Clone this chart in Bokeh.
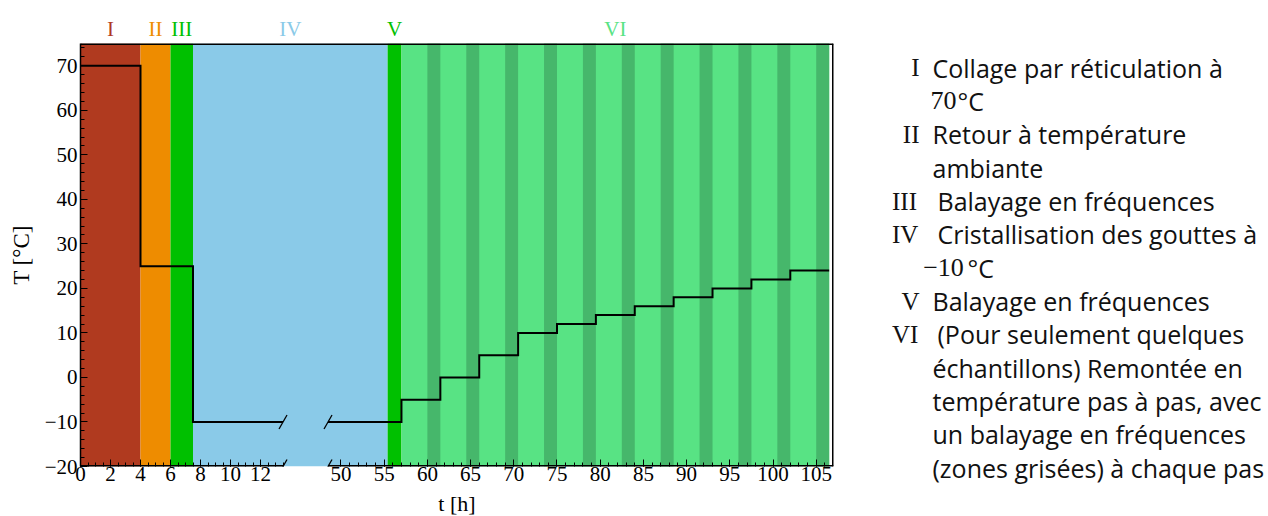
import numpy as np
from bokeh.plotting import figure
from bokeh.models import Range1d, FixedTicker, CustomJSTickFormatter
from bokeh.layouts import row, column
from bokeh.embed import file_html
from bokeh.resources import INLINE
from bokeh.core.properties import value

# ---------------- data ----------------
phase_labels = ["I", "II", "III", "IV", "V", "VI"]
phase_start_h = [0, 4, 6, 7.5, 55.4, 57]
phase_end_h = [4, 6, 7.5, 55.4, 57, 106.5]
phase_colors = ["#b03a1f", "#ee8c00", "#00c000", "#8acae8", "#00c000", "#58e384"]

sweep_start_h = [60, 64.5, 69, 73.5, 78, 82.5, 87, 91.5, 96, 100.5, 105]
sweep_end_h = [61.5, 66, 70.5, 75, 79.5, 84, 88.5, 93, 97.5, 102, 106.5]
sweep_color = "#46b76b"

step_time_h = [0, 4, 7.5, 57, 61.5, 66, 70.5, 75, 79.5, 84, 88.5, 93, 97.5, 102]
step_temp_c = [70, 25, -10, -5, 0, 5, 10, 12, 14, 16, 18, 20, 22, 24]
profile_end_h = 106.5

x_major_left = [0, 2, 4, 6, 8, 10, 12]
x_major_right = [50, 55, 60, 65, 70, 75, 80, 85, 90, 95, 100, 105]
y_major = [-20, -10, 0, 10, 20, 30, 40, 50, 60, 70]

legend_items = [
    ("I", "Collage par réticulation à", "70"),
    ("II", "Retour à température", "ambiante"),
    ("III", "Balayage en fréquences", None),
    ("IV", "Cristallisation des gouttes à", "−10"),
    ("V", "Balayage en fréquences", None),
    ("VI", "(Pour seulement quelques", None),
]
vi_continuation = ["échantillons) Remontée en", "température pas à pas, avec",
                   "un balayage en fréquences", "(zones grisées) à chaque pas"]

# ---------------- broken x axis mapping ----------------
LEFT_END, RIGHT_START, X_MAX_H = 13.5, 48.5, 107.0
PX_L, PX_R, GAP = 15.0, 8.64, 45.0
Y0, Y1 = -20, 75
FRAME_W, FRAME_H = 753, 423
PPU_Y = FRAME_H / (Y1 - Y0)
BL, BR = 80, 15
TOP_H, MAIN_BOTTOM, BOT_H = 43, 25, 25
BASE_FIX = 0.38  # em shift of Bokeh's alphabetic baseline placement


def u(t):
    if t <= LEFT_END:
        return round(t * PX_L, 4)
    return round(LEFT_END * PX_L + GAP + (t - RIGHT_START) * PX_R, 4)


def base(y, size):
    return y - BASE_FIX * size


U_MAX = u(X_MAX_H)
SERIF = "Liberation Serif"
SANS = "Open Sans"
xr = Range1d(0, U_MAX)


def bare(fw, fh, yr, x_range=None, left=0, right=0):
    f = figure(frame_width=fw, frame_height=fh, x_range=x_range if x_range is not None else Range1d(0, fw),
               y_range=yr, output_backend="svg", toolbar_location=None, title=None,
               x_axis_type=None, y_axis_type=None,
               min_border_left=left, min_border_right=right, min_border_top=0, min_border_bottom=0)
    f.outline_line_color = None
    f.grid.visible = False
    return f


# ---------------- main plot ----------------
p = figure(frame_width=FRAME_W, frame_height=FRAME_H, x_range=xr, y_range=Range1d(Y0, Y1),
           output_backend="svg", toolbar_location=None, title=None,
           min_border_left=BL, min_border_right=BR, min_border_top=0, min_border_bottom=MAIN_BOTTOM)
p.outline_line_color = None
p.grid.visible = False

p.quad(left=[u(s) for s in phase_start_h], right=[u(e) for e in phase_end_h],
       bottom=Y0, top=Y1, fill_color=phase_colors, line_color=None)
p.quad(left=[u(s) for s in sweep_start_h], right=[u(e) for e in sweep_end_h],
       bottom=Y0, top=Y1, fill_color=sweep_color, line_color=None)

# temperature step profile, split at the axis break
pts = []
ends = step_time_h[1:] + [profile_end_h]
for t0, t1, T in zip(step_time_h, ends, step_temp_c):
    pts.append((t0, T))
    pts.append((t1, T))
xs, ys = [[]], [[]]
for k, (t, T) in enumerate(pts):
    if k > 0:
        tp, Tp = pts[k - 1]
        if tp <= LEFT_END < t:
            xs[-1].append(u(LEFT_END)); ys[-1].append(Tp)
            xs.append([u(RIGHT_START)]); ys.append([Tp])
    xs[-1].append(u(t)); ys[-1].append(T)
p.multi_line(xs, ys, line_color="black", line_width=2, line_join="miter")

# frame lines (half of each lies inside the frame)
p.segment(x0=[0, u(RIGHT_START), 0, U_MAX], y0=[Y0, Y0, Y1, Y0],
          x1=[u(LEFT_END), U_MAX, U_MAX, U_MAX], y1=[Y0, Y0, Y1, Y1],
          line_color="black", line_width=3)

# break slashes
dx, dy = 4, 7 / PPU_Y
ub = [u(LEFT_END), u(RIGHT_START)]
T_break = -10
p.segment(x0=[b - dx for b in ub] * 2, y0=[T_break - dy] * 2 + [Y0 - dy] * 2,
          x1=[b + dx for b in ub] * 2, y1=[T_break + dy] * 2 + [Y0 + dy] * 2,
          line_color="black", line_width=1.3)

# x axis
minor_left = [u(v) for v in np.arange(0, LEFT_END + 0.01, 0.5)]
minor_right = [u(v) for v in np.arange(51, 107, 1)]
xax = p.xaxis[0]
xax.ticker = FixedTicker(ticks=[u(v) for v in x_major_left + x_major_right],
                         minor_ticks=minor_left + minor_right)
xax.formatter = CustomJSTickFormatter(
    args=dict(le=LEFT_END, rs=RIGHT_START, pl=PX_L, pr=PX_R, gap=GAP),
    code="""
    const lu = le * pl;
    let t;
    if (tick <= lu + 1e-6) { t = tick / pl; } else { t = rs + (tick - lu - gap) / pr; }
    return String(Math.round(t));
    """)
xax.axis_line_color = None

yax = p.yaxis[0]
yax.ticker = FixedTicker(ticks=y_major, minor_ticks=list(range(-20, 76, 2)))
yax.formatter = CustomJSTickFormatter(code="return tick < 0 ? '\u2212' + Math.abs(tick) : String(tick);")
yax.axis_line_width = 1.5
yax.axis_line_color = "black"
yax.axis_label = "T [°C]"
yax.axis_label_text_font = SERIF
yax.axis_label_text_font_size = "23px"
yax.axis_label_text_font_style = "normal"
yax.axis_label_text_color = "black"
yax.axis_label_standoff = 8

for ax in (xax, yax):
    ax.major_tick_in = 7
    ax.major_tick_out = 0
    ax.minor_tick_in = 4
    ax.minor_tick_out = 0
    ax.major_tick_line_color = "black"
    ax.minor_tick_line_color = "black"
    ax.major_label_text_font = SERIF
    ax.major_label_text_font_size = "21px"
    ax.major_label_text_color = "black"
yax.major_label_standoff = 3
xax.major_label_standoff = 0

# ---------------- phase labels above ----------------
top = bare(FRAME_W, TOP_H, Range1d(TOP_H, 0), x_range=xr, left=BL, right=BR)
top.text(x=[(u(s) + u(e)) / 2 for s, e in zip(phase_start_h, phase_end_h)],
         y=[base(36.7, 21)] * len(phase_labels),
         text=phase_labels, text_color=phase_colors, text_align="center", text_baseline="alphabetic",
         text_font=value(SERIF), text_font_size="21px")

# ---------------- x axis title below ----------------
bot = bare(FRAME_W, BOT_H, Range1d(BOT_H, 0), x_range=xr, left=BL, right=BR)
bot.text(x=[U_MAX / 2], y=[base(20.7, 22)], text=["t [h]"], text_align="center", text_baseline="alphabetic",
         text_font=value(SERIF), text_font_size="22px", text_color="black")

# ---------------- legend panel ----------------
LEG_W, LEG_H = 418, TOP_H + FRAME_H + MAIN_BOTTOM + BOT_H
q = bare(LEG_W, LEG_H, Range1d(LEG_H, 0))

LINE = 33.33
BASE0 = 76.7
NUM_SIZE, SER_SIZE, SANS_SIZE = 25, 26, 25
wide = {"III", "IV", "VI"}
num_x, num_y, num_t, num_a = [], [], [], []
txt_x, txt_y, txt_t = [], [], []
ser_x, ser_y, ser_t = [], [], []
line_i = 0
for lab, first, second in legend_items:
    yb = BASE0 + line_i * LINE
    if lab in wide:
        num_x.append(43.5); num_a.append("left"); txt_x.append(89)
    else:
        num_x.append(71); num_a.append("right"); txt_x.append(84)
    num_y.append(base(yb, NUM_SIZE)); num_t.append(lab)
    txt_y.append(base(yb, SANS_SIZE)); txt_t.append(first)
    line_i += 1
    if second is not None:
        yb = BASE0 + line_i * LINE
        if second in ("70", "−10"):
            ser_x.append(82 if second == "70" else 74.7); ser_y.append(base(yb, SER_SIZE)); ser_t.append(second)
            txt_x.append(109 if second == "70" else 119); txt_y.append(base(yb, SANS_SIZE)); txt_t.append("°C")
        else:
            txt_x.append(84); txt_y.append(base(yb, SANS_SIZE)); txt_t.append(second)
        line_i += 1
for s in vi_continuation:
    yb = BASE0 + line_i * LINE
    txt_x.append(84); txt_y.append(base(yb, SANS_SIZE)); txt_t.append(s)
    line_i += 1

q.text(x=num_x, y=num_y, text=num_t, text_align=num_a, text_baseline="alphabetic",
       text_font=value(SERIF), text_font_size=f"{NUM_SIZE}px", text_color="#111111")
q.text(x=ser_x, y=ser_y, text=ser_t, text_align="left", text_baseline="alphabetic",
       text_font=value(SERIF), text_font_size=f"{SER_SIZE}px", text_color="#111111")
q.text(x=txt_x, y=txt_y, text=txt_t, text_align="left", text_baseline="alphabetic",
       text_font=value(SANS), text_font_size=f"{SANS_SIZE}px", text_color="#111111")

layout = row(column(top, p, bot), q)
open("out.html", "w").write(file_html(layout, INLINE))
